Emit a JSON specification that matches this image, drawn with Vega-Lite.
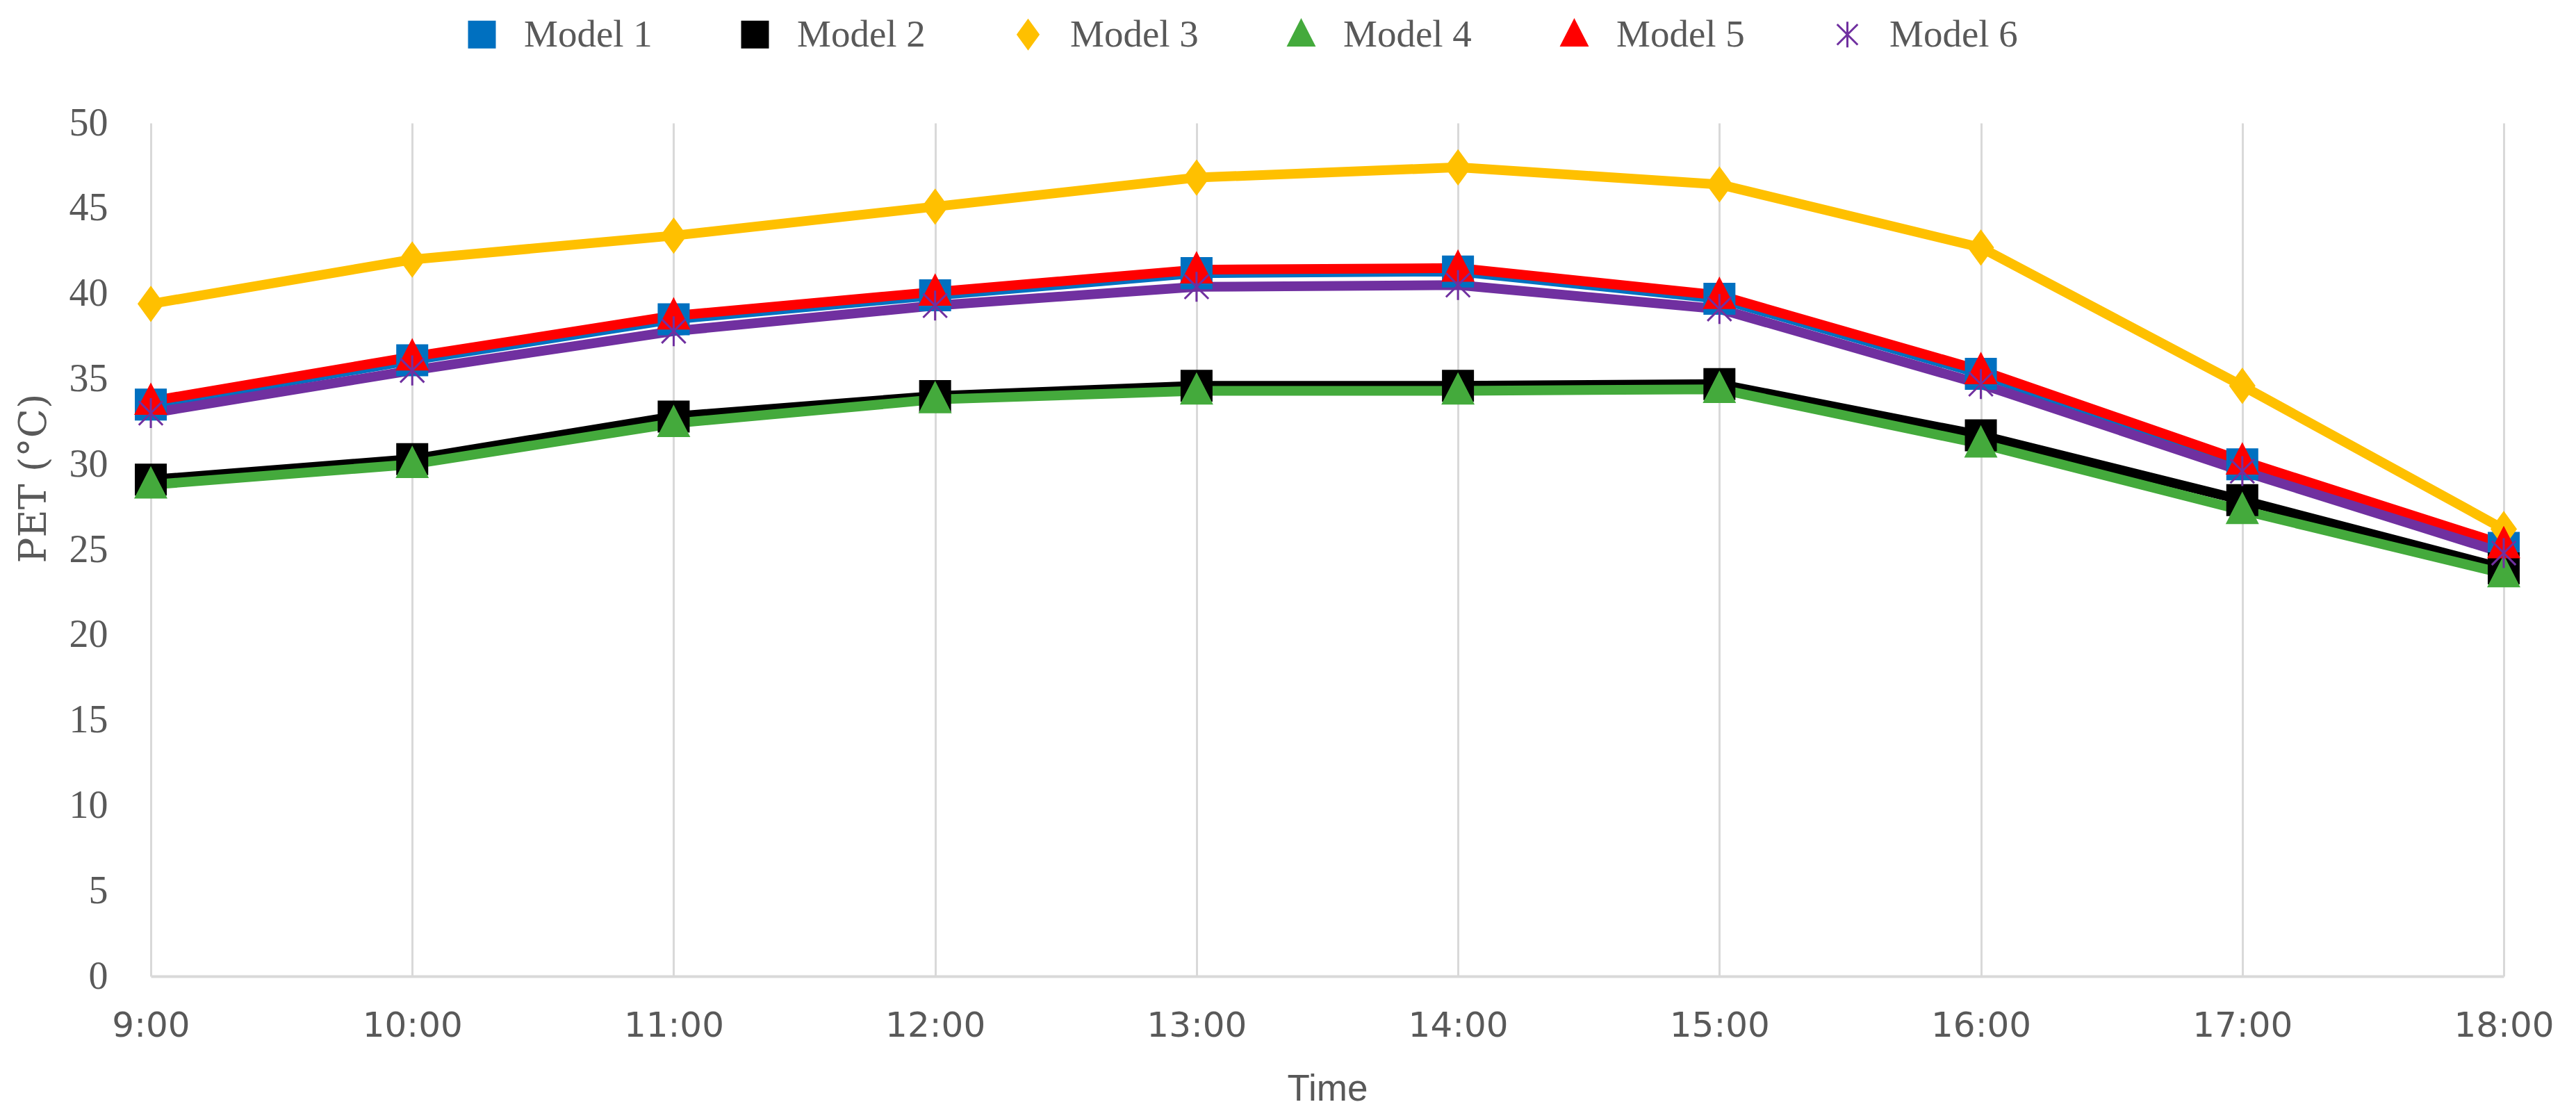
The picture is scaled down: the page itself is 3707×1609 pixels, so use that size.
{
  "$schema": "https://vega.github.io/schema/vega-lite/v6.json",
  "autosize": {"type": "none"},
  "width": 3386,
  "height": 1228,
  "padding": {"left": 217, "top": 177, "right": 104, "bottom": 204},
  "background": "white",
  "config": {"view": {"stroke": null}},
  "data": {"values": [
    {"time": "9:00", "model": "Model 1", "pet": 33.5},
    {"time": "10:00", "model": "Model 1", "pet": 36.1},
    {"time": "11:00", "model": "Model 1", "pet": 38.5},
    {"time": "12:00", "model": "Model 1", "pet": 39.9},
    {"time": "13:00", "model": "Model 1", "pet": 41.2},
    {"time": "14:00", "model": "Model 1", "pet": 41.3},
    {"time": "15:00", "model": "Model 1", "pet": 39.7},
    {"time": "16:00", "model": "Model 1", "pet": 35.3},
    {"time": "17:00", "model": "Model 1", "pet": 30.0},
    {"time": "18:00", "model": "Model 1", "pet": 25.1},
    {"time": "9:00", "model": "Model 2", "pet": 29.1},
    {"time": "10:00", "model": "Model 2", "pet": 30.3},
    {"time": "11:00", "model": "Model 2", "pet": 32.8},
    {"time": "12:00", "model": "Model 2", "pet": 34.0},
    {"time": "13:00", "model": "Model 2", "pet": 34.6},
    {"time": "14:00", "model": "Model 2", "pet": 34.6},
    {"time": "15:00", "model": "Model 2", "pet": 34.7},
    {"time": "16:00", "model": "Model 2", "pet": 31.7},
    {"time": "17:00", "model": "Model 2", "pet": 27.9},
    {"time": "18:00", "model": "Model 2", "pet": 23.9},
    {"time": "9:00", "model": "Model 3", "pet": 39.4},
    {"time": "10:00", "model": "Model 3", "pet": 42.0},
    {"time": "11:00", "model": "Model 3", "pet": 43.4},
    {"time": "12:00", "model": "Model 3", "pet": 45.1},
    {"time": "13:00", "model": "Model 3", "pet": 46.8},
    {"time": "14:00", "model": "Model 3", "pet": 47.4},
    {"time": "15:00", "model": "Model 3", "pet": 46.4},
    {"time": "16:00", "model": "Model 3", "pet": 42.7},
    {"time": "17:00", "model": "Model 3", "pet": 34.6},
    {"time": "18:00", "model": "Model 3", "pet": 26.2},
    {"time": "9:00", "model": "Model 4", "pet": 28.8},
    {"time": "10:00", "model": "Model 4", "pet": 30.0},
    {"time": "11:00", "model": "Model 4", "pet": 32.4},
    {"time": "12:00", "model": "Model 4", "pet": 33.8},
    {"time": "13:00", "model": "Model 4", "pet": 34.3},
    {"time": "14:00", "model": "Model 4", "pet": 34.3},
    {"time": "15:00", "model": "Model 4", "pet": 34.4},
    {"time": "16:00", "model": "Model 4", "pet": 31.2},
    {"time": "17:00", "model": "Model 4", "pet": 27.3},
    {"time": "18:00", "model": "Model 4", "pet": 23.6},
    {"time": "9:00", "model": "Model 5", "pet": 33.7},
    {"time": "10:00", "model": "Model 5", "pet": 36.3},
    {"time": "11:00", "model": "Model 5", "pet": 38.7},
    {"time": "12:00", "model": "Model 5", "pet": 40.1},
    {"time": "13:00", "model": "Model 5", "pet": 41.4},
    {"time": "14:00", "model": "Model 5", "pet": 41.5},
    {"time": "15:00", "model": "Model 5", "pet": 39.9},
    {"time": "16:00", "model": "Model 5", "pet": 35.5},
    {"time": "17:00", "model": "Model 5", "pet": 30.2},
    {"time": "18:00", "model": "Model 5", "pet": 25.3},
    {"time": "9:00", "model": "Model 6", "pet": 33.0},
    {"time": "10:00", "model": "Model 6", "pet": 35.5},
    {"time": "11:00", "model": "Model 6", "pet": 37.8},
    {"time": "12:00", "model": "Model 6", "pet": 39.3},
    {"time": "13:00", "model": "Model 6", "pet": 40.4},
    {"time": "14:00", "model": "Model 6", "pet": 40.5},
    {"time": "15:00", "model": "Model 6", "pet": 39.1},
    {"time": "16:00", "model": "Model 6", "pet": 34.7},
    {"time": "17:00", "model": "Model 6", "pet": 29.6},
    {"time": "18:00", "model": "Model 6", "pet": 24.8}
  ]},
  "encoding": {
    "x": {
      "field": "time", "type": "ordinal",
      "sort": ["9:00","10:00","11:00","12:00","13:00","14:00","15:00","16:00","17:00","18:00"],
      "scale": {"type": "point", "padding": 0},
      "axis": {
        "title": "Time",
        "titleFont": "Liberation Sans", "titleFontSize": 53, "titleFontWeight": "normal", "titleColor": "#595959",
        "titleBaseline": "alphabetic", "titleY": 178,
        "labelFont": "DejaVu Sans", "labelFontSize": 50, "labelColor": "#595959", "labelPadding": 46,
        "labelAngle": 0,
        "grid": true, "gridColor": "#D9D9D9", "gridWidth": 3,
        "ticks": false,
        "domain": true, "domainColor": "#D9D9D9", "domainWidth": 4
      }
    },
    "y": {
      "field": "pet", "type": "quantitative",
      "scale": {"domain": [0, 50], "nice": false},
      "axis": {
        "title": "PET (°C)",
        "values": [0,5,10,15,20,25,30,35,40,45,50],
        "titleFont": "DejaVu Serif", "titleFontSize": 55, "titleFontWeight": "normal", "titleColor": "#595959",
        "titleBaseline": "alphabetic", "titleX": -152, "titleY": 511, "titleAngle": -90,
        "labelFont": "Liberation Serif", "labelFontSize": 56, "labelColor": "#595959", "labelPadding": 62,
        "grid": false, "ticks": false, "domain": false
      }
    }
  },
  "layer": [
    {
      "mark": {"type": "line", "strokeWidth": 14, "strokeJoin": "round", "strokeCap": "round"},
      "encoding": {
        "stroke": {
          "field": "model", "type": "nominal",
          "scale": {
            "domain": ["Model 1","Model 2","Model 3","Model 4","Model 5","Model 6"],
            "range": ["#0070C0","#000000","#FFC000","#44AA3C","#FF0000","#7030A0"]
          },
          "legend": {
            "title": null,
            "orient": "none",
            "direction": "horizontal",
            "legendX": 449,
            "legendY": -155,
            "columns": 6,
            "labelFont": "Liberation Serif",
            "labelFontSize": 55,
            "labelLimit": 0,
            "labelColor": "#595959",
            "labelOffset": 33,
            "columnPadding": 120,
            "symbolSize": 1369,
            "symbolType": "square",
            "encode": {
              "symbols": {
                "update": {
                  "shape": {"value": {"expr": "datum.value === 'Model 1' || datum.value === 'Model 2' ? 'M-3.6,-0.32H3.6V0.32H-3.6Z M-1,-1H1V1H-1Z' : datum.value === 'Model 3' ? 'M-3.6,-0.32H3.6V0.32H-3.6Z M0,-1.1L0.8,0L0,1.1L-0.8,0Z' : datum.value === 'Model 6' ? 'M-3.6,-0.32H3.6V0.32H-3.6Z M0,-1V1M-0.8,-0.8L0.8,0.8M-0.8,0.8L0.8,-0.8' : 'M-3.6,-0.32H3.6V0.32H-3.6Z M0,-1.1L1,0.85L-1,0.85Z'"}},
                  "fill": {"value": {"expr": "scale('stroke', datum.value)"}},
                  "stroke": {"value": {"expr": "scale('stroke', datum.value)"}},
                  "strokeWidth": {"value": 3},
                  "opacity": {"value": 1},
                  "fillOpacity": {"value": 1}
                }
              }
            }
          }
        }
      }
    },
    {
      "mark": {"type": "point", "filled": true, "size": 1850, "strokeWidth": 3, "opacity": 1},
      "encoding": {
        "shape": {
          "field": "model", "type": "nominal",
          "scale": {
            "domain": ["Model 1","Model 2","Model 3","Model 4","Model 5","Model 6"],
            "range": ["square","square","M0,-1.1L0.8,0L0,1.1L-0.8,0Z","M0,-1.1L1,0.85L-1,0.85Z","M0,-1.1L1,0.85L-1,0.85Z","M0,-1V1M-0.8,-0.8L0.8,0.8M-0.8,0.8L0.8,-0.8"]
          },
          "legend": null
        },
        "fill": {"field": "model", "type": "nominal", "scale": {"domain": ["Model 1","Model 2","Model 3","Model 4","Model 5","Model 6"], "range": ["#0070C0","#000000","#FFC000","#44AA3C","#FF0000","#7030A0"]}, "legend": null},
        "stroke": {"field": "model", "type": "nominal", "legend": null}
      }
    }
  ]
}
